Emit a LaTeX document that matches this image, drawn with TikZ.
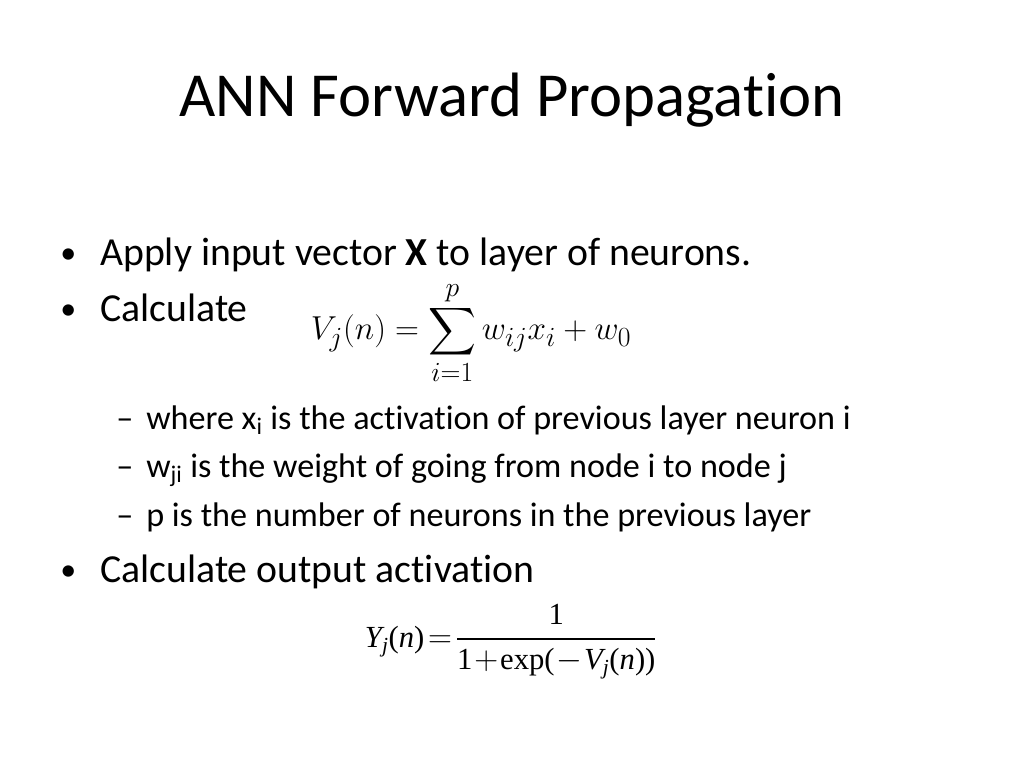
\documentclass[tikz,border=0pt]{standalone}
\usepackage{amsmath}
\usepackage{fontspec}
\setmainfont[RawFeature=-liga]{Carlito}
\newfontfamily\tmr{Liberation Serif}
\newcommand{\ti}[1]{\text{\tmr\itshape #1}}
\newcommand{\tr}[1]{\text{\tmr #1}}
\begin{document}
\begin{tikzpicture}[x=0.75pt,y=-0.75pt]
  \tikzstyle{title}=[font=\fontsize{47}{52}\selectfont,anchor=base]
  \tikzstyle{item}=[font=\fontsize{29.8}{34}\selectfont,anchor=base west,inner sep=0pt]
  \tikzstyle{dot}=[font=\fontsize{24}{28}\selectfont,anchor=base west,inner sep=0pt]
  \tikzstyle{subitem}=[font=\fontsize{25.6}{30}\selectfont,anchor=base west,inner sep=0pt]
  \tikzstyle{formula}=[font=\fontsize{30.5}{34}\selectfont,inner sep=0pt]

  \useasboundingbox (0,0) rectangle (1024,768);

  \node[title] (t) at (512,116) {ANN Forward Propagation};

  \node[dot] (b1) at (60,263) {\textbullet};
  \node[item] (i1) at (100,265) {Apply input vector \textbf{X} to layer of neurons.};
  \node[dot] (b2) at (60,319) {\textbullet};
  \node[item] (i2) at (100,321) {Calculate};
  \node[formula] (f1) at (471,333) {$\displaystyle V_j(n)=\sum_{i=1}^{p} w_{ij}x_i+w_0$};

  \node[subitem] (d1) at (116,429) {--};
  \node[subitem] (s1) at (146,429) {where x\textsubscript{i} is the activation of previous layer neuron i};
  \node[subitem] (d2) at (116,477) {--};
  \node[subitem] (s2) at (146,477) {w\textsubscript{ji} is the weight of going from node i to node j};
  \node[subitem] (d3) at (116,526) {--};
  \node[subitem] (s3) at (146,526) {p is the number of neurons in the previous layer};

  \node[dot] (b3) at (60,580) {\textbullet};
  \node[item] (i3) at (100,582) {Calculate output activation};
  \node[formula,font=\fontsize{23}{27}\selectfont] (f2) at (511,642)
    {$\displaystyle \ti{Y}_{\ti{j}}\tr{(}\ti{n}\tr{)}\!=\!\frac{\tr{1}}{\tr{1}\!+\!\tr{exp(}\!-\!\ti{V}_{\ti{j}}\tr{(}\ti{n}\tr{))}}$};
\end{tikzpicture}
\end{document}
